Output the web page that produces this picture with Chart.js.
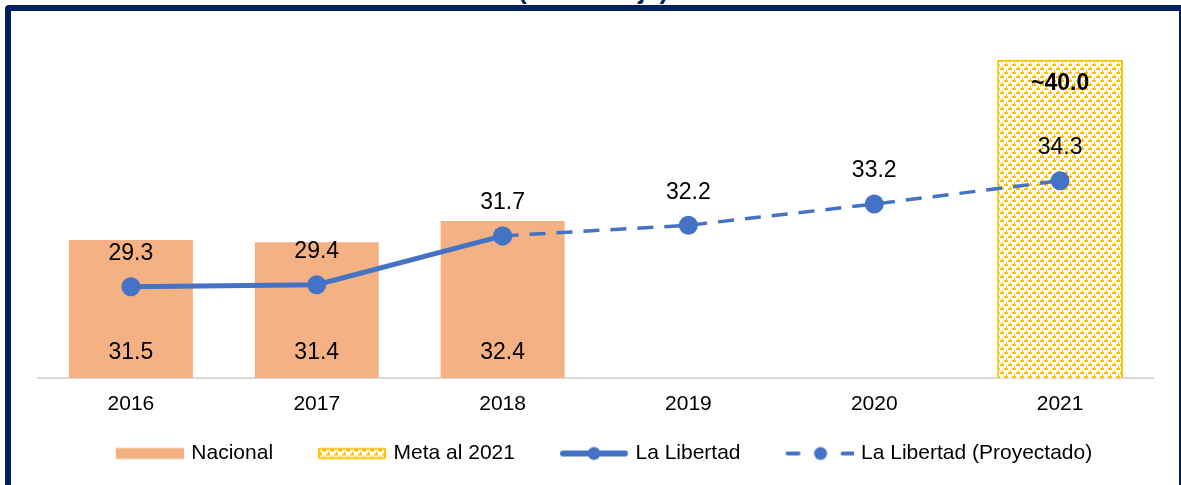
<!DOCTYPE html>
<html>
<head>
<meta charset="utf-8">
<script src="https://cdn.jsdelivr.net/npm/chart.js@4"></script>
<style>
  html, body { margin: 0; padding: 0; background: #fff; overflow: hidden; }
  body { width: 1181px; height: 485px; position: relative; }
  #title { position: absolute; left: 518px; top: -23px; font: bold 26px "Liberation Sans", Arial, sans-serif; color: #002060; line-height: 26px; white-space: nowrap; }
  #frame { position: absolute; left: 5px; top: 5px; width: 1168px; height: 600px; border: 6px solid #002060; border-radius: 4px; }
  #chart { position: absolute; left: 0; top: 0; }
</style>
</head>
<body>
<div id="title">(Porcentaje)</div>
<div id="frame"></div>
<canvas id="chart" width="1181" height="485"></canvas>
<script>
// values
const years = ['2016', '2017', '2018', '2019', '2020', '2021'];
const nacional = [31.5, 31.4, 32.4, null, null, null];
const meta2021 = [null, null, null, null, null, 40.0];
const laLibertad = [29.3, 29.4, 31.7, null, null, null];
const laLibertadProy = [null, null, 31.7, 32.2, 33.2, 34.3];

const FONT = '"Liberation Sans", Arial, sans-serif';
const BLUE = '#4472C4';
const ORANGE = '#F4B183';
const GOLD = '#FFC000';
const BOX_W = 82;   // legend box width given to chart.js
const PAD = 28;     // legend padding

function makePattern(g) {
    const c = document.createElement('canvas');
    c.width = 8; c.height = 8;
    const p = c.getContext('2d');
    p.fillStyle = '#fff';
    p.fillRect(0, 0, 8, 8);
    p.fillStyle = GOLD;
    // staggered dashes running up to the right, like the office fill
    p.fillRect(4, 0, 4, 2);
    p.fillRect(0, 4, 4, 2);
    p.fillRect(2, 2, 1, 2);
    p.fillRect(6, 6, 1, 2);
    return g.createPattern(c, 'repeat');
}

const ctx = document.getElementById('chart');
const pattern = makePattern(ctx.getContext('2d'));

// legend symbols: symbol sits at the right end of a slightly wider canvas
function legendIcon(kind) {
    const W = BOX_W + 6, H = 16;
    const c = document.createElement('canvas');
    c.width = W; c.height = H;
    const g = c.getContext('2d');
    const x0 = W - 68, cy = H / 2;
    if (kind === 'nacional') {
        g.fillStyle = ORANGE;
        g.fillRect(x0, cy - 5.5, 68, 11);
    } else if (kind === 'meta') {
        g.fillStyle = pattern;
        g.fillRect(x0, cy - 5.5, 68, 11);
        g.strokeStyle = GOLD;
        g.lineWidth = 2;
        g.strokeRect(x0 + 1, cy - 4.5, 66, 9);
    } else if (kind === 'line') {
        g.strokeStyle = BLUE;
        g.lineWidth = 6;
        g.lineCap = 'round';
        g.beginPath(); g.moveTo(x0 + 3, cy); g.lineTo(x0 + 65, cy); g.stroke();
        g.fillStyle = BLUE;
        g.beginPath(); g.arc(x0 + 34, cy, 6.5, 0, Math.PI * 2); g.fill();
    } else {
        g.strokeStyle = BLUE;
        g.lineWidth = 4;
        g.lineCap = 'round';
        g.beginPath(); g.moveTo(x0 + 2, cy); g.lineTo(x0 + 13, cy); g.stroke();
        g.beginPath(); g.moveTo(x0 + 57, cy); g.lineTo(x0 + 68, cy); g.stroke();
        g.fillStyle = BLUE;
        g.beginPath(); g.arc(x0 + 35, cy, 6.5, 0, Math.PI * 2); g.fill();
    }
    return c;
}

const legendItems = [
    { text: 'Nacional', pointStyle: legendIcon('nacional') },
    { text: 'Meta al 2021', pointStyle: legendIcon('meta') },
    { text: 'La Libertad', pointStyle: legendIcon('line') },
    { text: 'La Libertad (Proyectado)', pointStyle: legendIcon('dash') }
].map(it => Object.assign(it, { fillStyle: '#fff', strokeStyle: '#fff', lineWidth: 0, hidden: false, fontColor: '#000' }));

const valueLabels = {
    id: 'valueLabels',
    afterDatasetsDraw(chart) {
        const g = chart.ctx;
        const bottom = chart.chartArea.bottom;
        g.save();
        g.textAlign = 'center';
        g.textBaseline = 'middle';
        g.fillStyle = '#000';
        chart.data.datasets.forEach((ds, i) => {
            const meta = chart.getDatasetMeta(i);
            meta.data.forEach((el, j) => {
                const v = ds.data[j];
                if (v == null) return;
                if (ds.label === 'La Libertad (Proyectado)' && j === 2) return;
                let text = v.toFixed(1);
                let y;
                g.font = '23px ' + FONT;
                if (ds.label === 'Nacional') {
                    y = bottom - 25;
                } else if (ds.label === 'Meta al 2021') {
                    y = el.y + 24;
                    text = '~' + text;
                    g.font = 'bold 23px ' + FONT;
                } else {
                    y = el.y - 33;
                }
                g.fillText(text, el.x, y);
            });
        });
        g.restore();
    }
};

new Chart(ctx, {
    type: 'bar',
    data: {
        labels: years,
        datasets: [
            {
                type: 'line',
                label: 'La Libertad',
                data: laLibertad,
                borderColor: BLUE,
                backgroundColor: BLUE,
                borderWidth: 5,
                pointRadius: 9.5,
                pointBorderWidth: 0,
                pointBackgroundColor: BLUE,
                order: 1
            },
            {
                type: 'line',
                label: 'La Libertad (Proyectado)',
                data: laLibertadProy,
                borderColor: BLUE,
                backgroundColor: BLUE,
                borderWidth: 3.5,
                borderDash: [16, 11],
                pointRadius: 9.5,
                pointBorderWidth: 0,
                pointBackgroundColor: BLUE,
                order: 1
            },
            {
                label: 'Nacional',
                data: nacional,
                backgroundColor: ORANGE,
                barPercentage: 0.667,
                categoryPercentage: 1,
                grouped: false,
                order: 2
            },
            {
                label: 'Meta al 2021',
                data: meta2021,
                backgroundColor: pattern,
                borderColor: GOLD,
                borderWidth: 2,
                barPercentage: 0.677,
                categoryPercentage: 1,
                grouped: false,
                order: 3
            }
        ]
    },
    options: {
        responsive: false,
        animation: false,
        layout: { padding: { top: 28, left: 38, right: 28, bottom: 11 } },
        scales: {
            x: {
                grid: { display: false, drawTicks: false },
                border: { display: true, color: '#D9D9D9', width: 2 },
                ticks: { color: '#000', padding: 14, font: { family: FONT, size: 21 } },
                afterFit: (s) => { s.height = 37; }
            },
            y: { display: false, min: 25, max: 41.5 }
        },
        plugins: {
            tooltip: { enabled: false },
            legend: {
                position: 'bottom',
                labels: {
                    usePointStyle: true,
                    pointStyleWidth: BOX_W,
                    padding: PAD,
                    color: '#000',
                    font: { family: FONT, size: 21 },
                    generateLabels: () => legendItems
                }
            }
        }
    },
    plugins: [valueLabels]
});
</script>
</body>
</html>
